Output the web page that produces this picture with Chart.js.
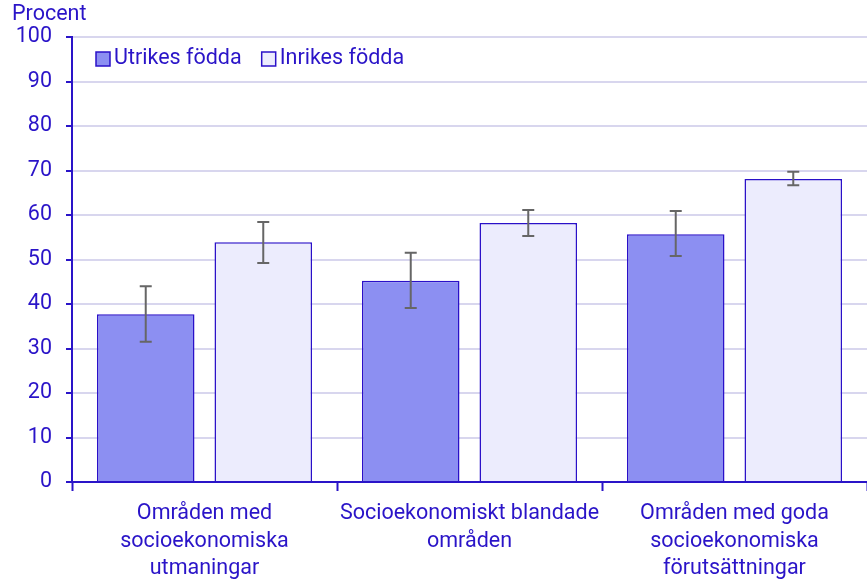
<!DOCTYPE html>
<html>
<head>
<meta charset="utf-8">
<script src="https://cdn.jsdelivr.net/npm/chart.js@4"></script>
<style>
  html, body { margin: 0; padding: 0; background: #fff; }
  #wrap { width: 867px; height: 579px; }
</style>
</head>
<body>
<div id="wrap"><canvas id="chart" width="867" height="579"></canvas></div>
<script>
const categories = [
  ['Områden med', 'socioekonomiska', 'utmaningar'],
  ['Socioekonomiskt blandade', 'områden'],
  ['Områden med goda', 'socioekonomiska', 'förutsättningar']
];
const seriesNames = ['Utrikes födda', 'Inrikes födda'];
const utrikes = [37.7, 45.2, 55.7];
const utrikesLow = [31.5, 39.1, 50.8];
const utrikesHigh = [44.0, 51.5, 60.9];
const inrikes = [53.9, 58.2, 68.1];
const inrikesLow = [49.2, 55.3, 66.7];
const inrikesHigh = [58.4, 61.1, 69.7];
const yTicks = [0, 10, 20, 30, 40, 50, 60, 70, 80, 90, 100];

const textColor = '#2a14c8';
const axisColor = '#2a14c8';
const gridColor = '#d8d6ee';
const font = { family: 'Roboto', size: 21.5, lineHeight: 1.28 };

// error bars drawn from the low/high arrays through the y scale
const errorBars = {
  id: 'errorBars',
  afterDatasetsDraw(chart) {
    const ctx = chart.ctx;
    const y = chart.scales.y;
    const ranges = [[utrikesLow, utrikesHigh], [inrikesLow, inrikesHigh]];
    ctx.save();
    ctx.strokeStyle = '#666666';
    ctx.lineWidth = 2;
    chart.data.datasets.forEach((ds, i) => {
      const meta = chart.getDatasetMeta(i);
      meta.data.forEach((bar, j) => {
        const top = y.getPixelForValue(ranges[i][1][j]);
        const bot = y.getPixelForValue(ranges[i][0][j]);
        ctx.beginPath();
        ctx.moveTo(bar.x, top); ctx.lineTo(bar.x, bot);
        ctx.moveTo(bar.x - 6, top); ctx.lineTo(bar.x + 6, top);
        ctx.moveTo(bar.x - 6, bot); ctx.lineTo(bar.x + 6, bot);
        ctx.stroke();
      });
    });
    ctx.restore();
  }
};

// legend inside the plot area plus the "Procent" unit label
const labels = {
  id: 'labels',
  afterDraw(chart) {
    const ctx = chart.ctx;
    const area = chart.chartArea;
    ctx.save();
    ctx.font = '21.5px Roboto';
    ctx.fillStyle = textColor;
    ctx.textBaseline = 'middle';
    ctx.textAlign = 'left';
    ctx.fillText('Procent', 12, 15);
    let x = area.left + 24;
    const ly = area.top + 22;
    chart.data.datasets.forEach((ds) => {
      ctx.fillStyle = ds.backgroundColor;
      ctx.fillRect(x, ly - 7, 14, 14);
      ctx.strokeStyle = ds.borderColor;
      ctx.lineWidth = 1.5;
      ctx.strokeRect(x, ly - 7, 14, 14);
      ctx.fillStyle = textColor;
      ctx.fillText(ds.label, x + 18, ly);
      x += 18 + ctx.measureText(ds.label).width + 20;
    });
    ctx.restore();
  }
};

new Chart(document.getElementById('chart'), {
  type: 'bar',
  data: {
    labels: categories,
    datasets: [
      {
        label: seriesNames[0],
        data: utrikes,
        backgroundColor: '#8c8ff2',
        borderColor: '#2a10c8',
        borderWidth: 1.5
      },
      {
        label: seriesNames[1],
        data: inrikes,
        backgroundColor: '#ececfd',
        borderColor: '#2a10c8',
        borderWidth: 1.5
      }
    ]
  },
  options: {
    responsive: false,
    animation: false,
    categoryPercentage: 0.887,
    barPercentage: 0.83,
    layout: { padding: { top: 37, right: -3, left: 0, bottom: 0 } },
    plugins: {
      legend: { display: false },
      tooltip: { enabled: false }
    },
    scales: {
      x: {
        grid: {
          display: true,
          drawOnChartArea: false,
          drawTicks: true,
          tickLength: 9,
          tickColor: axisColor,
          tickWidth: 2
        },
        border: { color: axisColor, width: 2 },
        ticks: { color: textColor, font: font, maxRotation: 0, padding: 9 },
        afterFit(scale) { scale.height = 97; }
      },
      y: {
        min: 0,
        max: 100,
        afterBuildTicks(scale) { scale.ticks = yTicks.map((v) => ({ value: v })); },
        grid: {
          color: (c) => (c.tick && c.tick.value === 0 ? 'rgba(0,0,0,0)' : gridColor),
          lineWidth: 2,
          tickLength: 6,
          tickColor: axisColor,
          tickWidth: 2
        },
        border: { color: axisColor, width: 2 },
        ticks: { color: textColor, font: font, padding: 14 },
        afterFit(scale) { scale.width = 72; }
      }
    }
  },
  plugins: [errorBars, labels]
});
</script>
</body>
</html>
